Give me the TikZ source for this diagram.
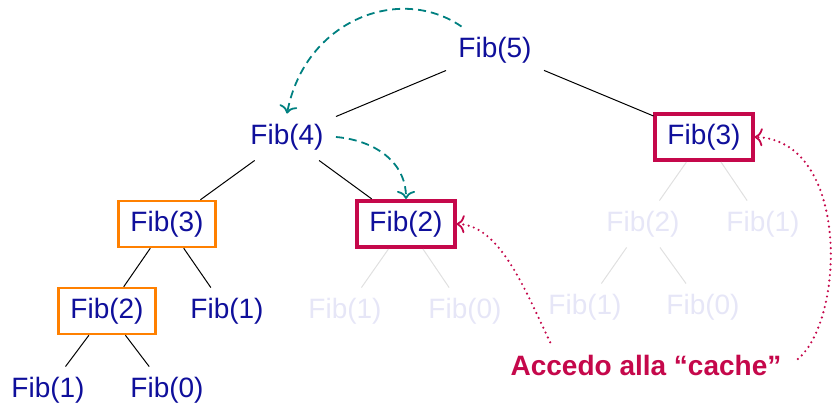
\documentclass[tikz,border=0pt]{standalone}
\usepackage{fontspec}
\setmainfont{Liberation Sans}
\usetikzlibrary{arrows.meta}

\definecolor{fibblue}{RGB}{15,15,155}
\definecolor{fibfaded}{RGB}{230,230,247}
\definecolor{edgefaded}{RGB}{224,224,224}
\definecolor{cachered}{RGB}{197,8,75}
\definecolor{callteal}{RGB}{0,128,128}
\definecolor{recorange}{RGB}{255,128,0}

\tikzset{
	fib/.style={text=fibblue, inner xsep=6pt, inner ysep=5pt, font=\fontsize{14}{16}\selectfont},
	faded/.style={fib, text=fibfaded},
	cached/.style={fib, draw=cachered, line width=2pt},
	recomputed/.style={fib, draw=recorange, line width=1.2pt},
	treeedge/.style={black, line width=0.5pt},
	fadededge/.style={edgefaded, line width=0.5pt},
	callarrow/.style={callteal, line width=0.9pt, dash pattern=on 4pt off 2.5pt, -{To[length=4pt,width=9pt]}},
	cachearrow/.style={cachered, line width=1.2pt, line cap=round, dash pattern=on 0pt off 2.7pt, -{To[length=4pt,width=9pt,line width=0.9pt]}}
}

\begin{document}
\begin{tikzpicture}[x=0.5pt,y=-0.5pt]
	\useasboundingbox (0,0) rectangle (839,408);

	\node[fib] (f5) at (495,50) {Fib(5)};
	\node[fib] (f4) at (287,137) {Fib(4)};
	\node[cached] (f3r) at (704,137) {Fib(3)};

	\node[recomputed] (f3l) at (167,224) {Fib(3)};
	\node[cached] (f2c) at (406,224) {Fib(2)};
	\node[faded] (f2r) at (643,224) {Fib(2)};
	\node[faded] (f1r) at (763,224) {Fib(1)};

	\node[recomputed] (f2l) at (107,311) {Fib(2)};
	\node[fib] (f1l) at (227,311) {Fib(1)};
	\node[faded] (f1m) at (345,311) {Fib(1)};
	\node[faded] (f0m) at (465,311) {Fib(0)};
	\node[faded] (f1rl) at (585,307) {Fib(1)};
	\node[faded] (f0rl) at (703,307) {Fib(0)};

	\node[fib] (f1ll) at (48,390) {Fib(1)};
	\node[fib] (f0ll) at (167,390) {Fib(0)};

	\node[text=cachered, font=\fontsize{14}{16}\selectfont\bfseries, inner sep=3pt] (cache) at (646,365) {Accedo alla “cache”};

	\draw[treeedge] (f5) -- (f4);
	\draw[treeedge] (f5) -- (f3r);
	\draw[treeedge] (f4) -- (f3l);
	\draw[treeedge] (f4) -- (f2c);
	\draw[treeedge] (f3l) -- (f2l);
	\draw[treeedge] (f3l) -- (f1l);
	\draw[treeedge] (f2l) -- (f1ll);
	\draw[treeedge] (f2l) -- (f0ll);

	\draw[fadededge] (f2c) -- (f1m);
	\draw[fadededge] (f2c) -- (f0m);
	\draw[fadededge] (f3r) -- (f2r);
	\draw[fadededge] (f3r) -- (f1r);
	\draw[fadededge] (f2r) -- (f1rl);
	\draw[fadededge] (f2r) -- (f0rl);

	\draw[callarrow] (f5.145) .. controls (400,-16) and (305,20) .. (f4.north);
	\draw[callarrow] (f4.east) .. controls (372,140) and (406,160) .. (f2c.north);

	\draw[cachearrow] ([shift={(23pt,3pt)}]cache.north west) .. controls (525,290) and (500,225) .. (f2c.east);
	\draw[cachearrow] ([shift={(5pt,3pt)}]cache.east) .. controls (845,320) and (850,140) .. (f3r.east);
\end{tikzpicture}
\end{document}
